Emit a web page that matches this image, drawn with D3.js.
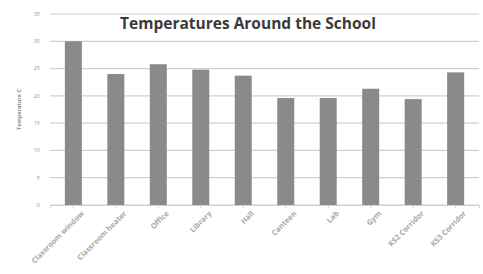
<!DOCTYPE html>
<html>
<head>
<meta charset="utf-8">
<script src="https://cdn.jsdelivr.net/npm/d3@7"></script>
<style>
  body { margin: 0; background: #fff; }
  svg { display: block; }
</style>
</head>
<body>
<svg width="483" height="274"></svg>
<script>
// chart data
const places = ['Classroom window', 'Classroom heater', 'Office', 'Library', 'Hall',
  'Canteen', 'Lab', 'Gym', 'KS2 Corridor', 'KS3 Corridor'];
const temps = [30, 24, 25.8, 24.8, 23.7, 19.6, 19.6, 21.3, 19.4, 24.3];
const yTicks = [0, 5, 10, 15, 20, 25, 30, 35];

const svg = d3.select('svg');
const margin = { top: 14, right: 4, bottom: 69, left: 50 };
const w = 483 - margin.left - margin.right;
const h = 274 - margin.top - margin.bottom;

const g = svg.append('g').attr('transform', `translate(${margin.left},${margin.top})`);

const x = d3.scaleBand().domain(places).range([0, w]).paddingInner(0.6).paddingOuter(0.35);
const y = d3.scaleLinear().domain([0, 35]).range([h, 0]);

// gridlines
g.selectAll('.grid').data(yTicks).join('line')
  .attr('x1', 0).attr('x2', w)
  .attr('y1', d => y(d)).attr('y2', d => y(d))
  .attr('stroke', '#d0d0d0').attr('stroke-width', 1.2);

// y labels
g.selectAll('.ylab').data(yTicks).join('text')
  .attr('x', -10).attr('y', d => y(d)).attr('dy', '0.35em')
  .attr('text-anchor', 'end')
  .attr('font-family', 'Open Sans, sans-serif').attr('font-size', 5.5)
  .attr('fill', '#999').text(d => d);

// bars
g.selectAll('.bar').data(temps).join('rect')
  .attr('x', (d, i) => x(places[i]))
  .attr('width', x.bandwidth())
  .attr('y', d => y(d))
  .attr('height', d => h - y(d))
  .attr('fill', '#8a8a8a');

// x axis
const xAxis = g.append('g').attr('transform', `translate(0,${h})`)
  .call(d3.axisBottom(x).tickSize(3));
xAxis.select('.domain').attr('stroke', '#cfcfcf');
xAxis.selectAll('line').attr('stroke', '#cfcfcf');
xAxis.selectAll('text')
  .attr('font-family', 'Open Sans, sans-serif').attr('font-size', 7.5)
  .attr('font-weight', 'bold')
  .attr('fill', '#a8a8a8')
  .attr('text-anchor', 'end')
  .attr('dx', '0.2em').attr('dy', '1.1em')
  .attr('transform', 'rotate(-45)');

// y title
svg.append('text')
  .attr('transform', `translate(21,${margin.top + h / 2}) rotate(-90)`)
  .attr('text-anchor', 'middle')
  .attr('font-family', 'Open Sans, sans-serif').attr('font-size', 5.5)
  .attr('font-weight', 'bold')
  .attr('fill', '#8a8a8a').text('Temperature C');

// title
svg.append('text')
  .attr('x', 248).attr('y', 29)
  .attr('text-anchor', 'middle')
  .attr('font-family', 'Open Sans, sans-serif').attr('font-size', 15.5)
  .attr('font-weight', 'bold')
  .attr('fill', '#3a3a3a').text('Temperatures Around the School');
</script>
</body>
</html>
